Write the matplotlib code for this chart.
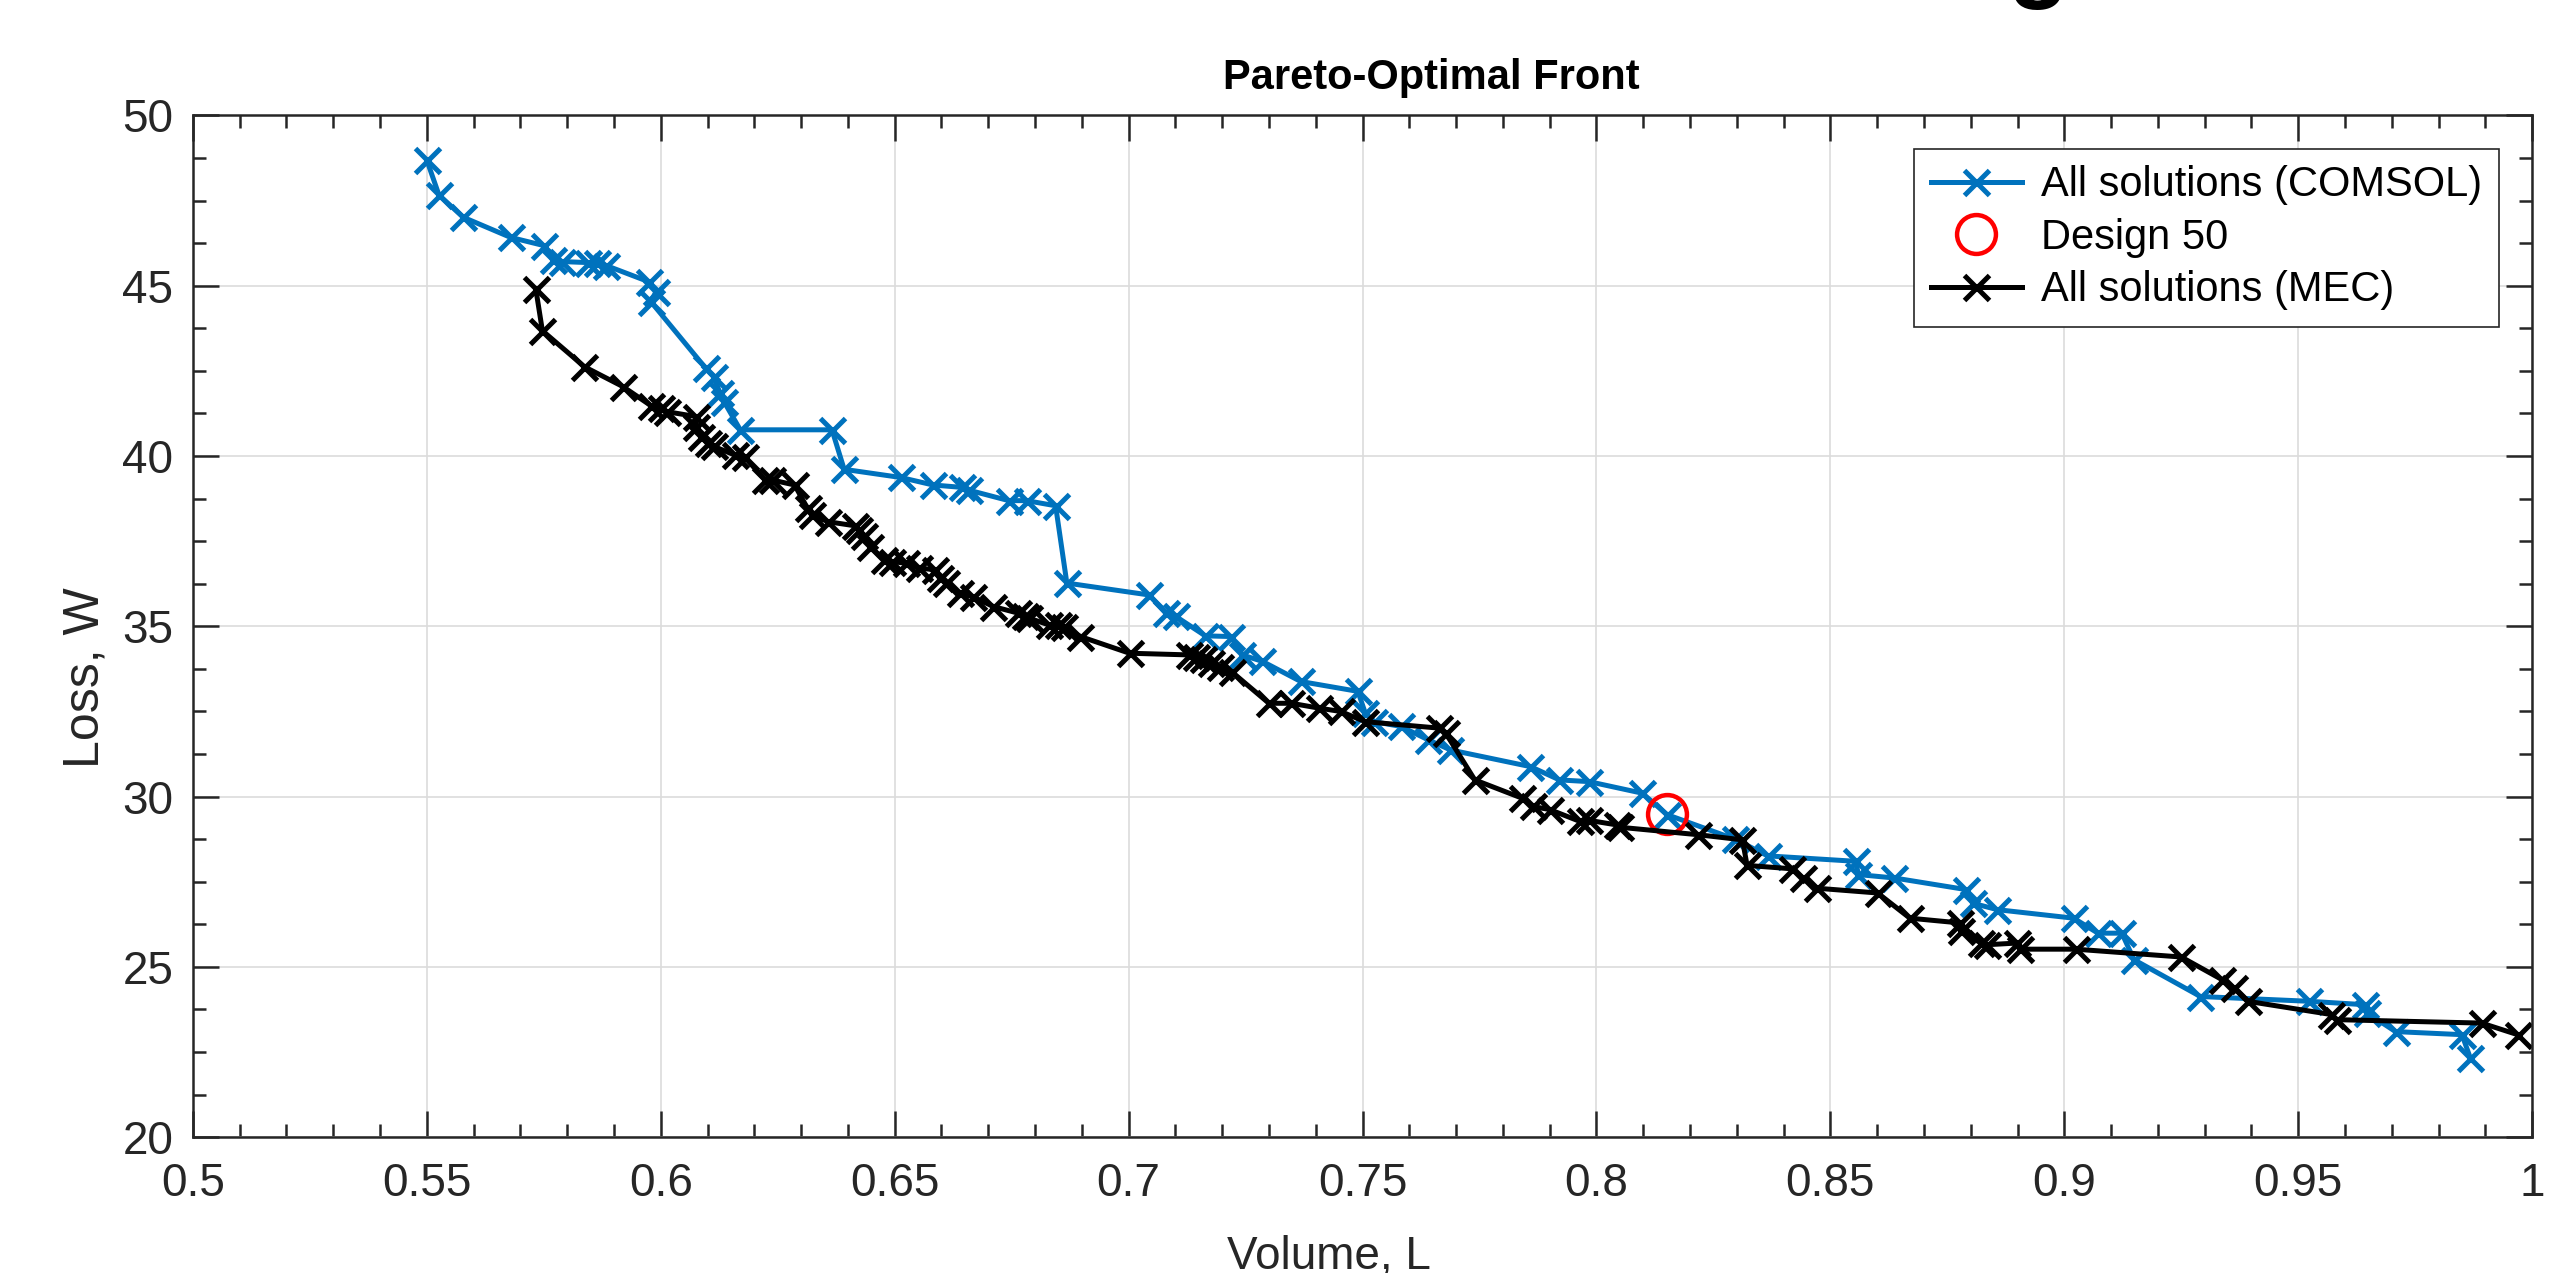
import matplotlib
matplotlib.use("Agg")
import matplotlib.pyplot as plt
from matplotlib.ticker import MultipleLocator

# Pareto front, COMSOL evaluation (volume in L, loss in W)
comsol_vol = [0.5500, 0.5526, 0.5578, 0.5679, 0.5750, 0.5769, 0.5788, 0.5845, 0.5864, 0.5884,
              0.5974, 0.5990, 0.5979, 0.6096, 0.6113, 0.6127, 0.6135, 0.6170, 0.6366, 0.6392,
              0.6513, 0.6582, 0.6643, 0.6658, 0.6744, 0.6782, 0.6844, 0.6868, 0.7044, 0.7080,
              0.7101, 0.7164, 0.7219, 0.7243, 0.7286, 0.7368, 0.7490, 0.7506, 0.7525, 0.7582,
              0.7640, 0.7688, 0.7859, 0.7921, 0.7984, 0.8098, 0.8151, 0.8296, 0.8366, 0.8554,
              0.8560, 0.8637, 0.8790, 0.8804, 0.8857, 0.9020, 0.9072, 0.9123, 0.9149, 0.9291,
              0.9523, 0.9642, 0.9648, 0.9708, 0.9850, 0.9868]
comsol_loss = [48.69, 47.66, 47.01, 46.42, 46.18, 45.76, 45.71, 45.68, 45.68, 45.59,
               45.12, 44.83, 44.53, 42.58, 42.33, 41.84, 41.60, 40.77, 40.77, 39.61,
               39.37, 39.15, 39.08, 39.00, 38.69, 38.69, 38.54, 36.27, 35.92, 35.38,
               35.29, 34.72, 34.70, 34.16, 33.97, 33.38, 33.09, 32.45, 32.20, 32.06,
               31.67, 31.37, 30.88, 30.49, 30.44, 30.10, 29.47, 28.75, 28.26, 28.10,
               27.71, 27.61, 27.27, 26.87, 26.68, 26.43, 25.99, 25.99, 25.21, 24.13,
               23.99, 23.89, 23.64, 23.10, 23.01, 22.32]

# Pareto front, MEC model
mec_vol = [0.5733, 0.5747, 0.5837, 0.5919, 0.5980, 0.6000, 0.6014, 0.6075, 0.6076, 0.6086,
           0.6100, 0.6114, 0.6158, 0.6180, 0.6223, 0.6237, 0.6286, 0.6314, 0.6323, 0.6358,
           0.6416, 0.6424, 0.6434, 0.6448, 0.6477, 0.6495, 0.6525, 0.6553, 0.6586, 0.6596,
           0.6610, 0.6639, 0.6667, 0.6711, 0.6763, 0.6778, 0.6787, 0.6830, 0.6849, 0.6863,
           0.6897, 0.7002, 0.7130, 0.7144, 0.7158, 0.7177, 0.7196, 0.7220, 0.7300, 0.7348,
           0.7406, 0.7453, 0.7506, 0.7664, 0.7678, 0.7740, 0.7840, 0.7864, 0.7900, 0.7965,
           0.7985, 0.8043, 0.8050, 0.8218, 0.8312, 0.8322, 0.8418, 0.8441, 0.8471, 0.8601,
           0.8670, 0.8777, 0.8780, 0.8822, 0.8834, 0.8899, 0.8905, 0.9024, 0.9250, 0.9338,
           0.9363, 0.9392, 0.9571, 0.9583, 0.9892, 0.9969]
mec_loss = [44.90, 43.68, 42.62, 42.04, 41.47, 41.40, 41.30, 41.16, 40.86, 40.57,
            40.38, 40.28, 40.03, 39.96, 39.30, 39.30, 39.15, 38.46, 38.27, 38.07,
            37.95, 37.83, 37.64, 37.34, 36.95, 36.90, 36.85, 36.71, 36.66, 36.41,
            36.27, 35.97, 35.87, 35.58, 35.39, 35.29, 35.24, 35.04, 35.04, 34.99,
            34.70, 34.21, 34.16, 34.11, 34.04, 33.92, 33.82, 33.67, 32.74, 32.74,
            32.60, 32.50, 32.20, 32.01, 31.86, 30.49, 29.96, 29.71, 29.62, 29.27,
            29.30, 29.17, 29.10, 28.88, 28.73, 27.98, 27.88, 27.61, 27.31, 27.17,
            26.43, 26.29, 26.04, 25.70, 25.65, 25.70, 25.52, 25.52, 25.29, 24.62,
            24.38, 23.99, 23.60, 23.45, 23.35, 23.01]

design_vol = [0.8150]
design_loss = [29.50]

AX_COLOR = '#262626'
BLUE = '#0072BD'

plt.rcParams['font.family'] = ['Liberation Sans', 'DejaVu Sans']

fig = plt.figure(figsize=(25.72, 12.73), dpi=100)
ax = fig.add_axes([0.0750, 0.1067, 0.9095, 0.8026])

ax.plot(comsol_vol, comsol_loss, color=BLUE, lw=3.6, marker='x', ms=18, mew=3.6,
        label='All solutions (COMSOL)')
ax.plot(design_vol, design_loss, ls='none', marker='o', ms=28, mfc='none', mec='red',
        mew=3.2, label='Design 50')
ax.plot(mec_vol, mec_loss, color='black', lw=3.6, marker='x', ms=18, mew=3.6,
        label='All solutions (MEC)')

ax.set_xlim(0.5, 1.0)
ax.set_ylim(20, 50)
ax.xaxis.set_major_locator(MultipleLocator(0.05))
ax.xaxis.set_minor_locator(MultipleLocator(0.01))
ax.yaxis.set_major_locator(MultipleLocator(5))
ax.yaxis.set_minor_locator(MultipleLocator(1.25))
ax.xaxis.set_major_formatter(plt.FuncFormatter(lambda v, p: f"{v:g}"))

ax.grid(True, which='major', color='#dcdcdc', lw=1.2)
ax.set_axisbelow(True)
for s in ax.spines.values():
    s.set_color(AX_COLOR)
    s.set_linewidth(1.8)
ax.tick_params(which='both', direction='in', top=True, right=True, colors=AX_COLOR,
               labelsize=33, width=1.8)
ax.tick_params(which='major', length=18.5)
ax.tick_params(which='minor', length=9.5)
ax.tick_params(axis='x', pad=18)
ax.tick_params(axis='y', pad=14)

ax.set_title('Pareto-Optimal Front', fontsize=30, fontweight='bold', pad=19,
             color='black', x=0.5295)
ax.set_xlabel('Volume, L', fontsize=33, color=AX_COLOR, va='baseline')
ax.set_ylabel('Loss, W', fontsize=36, color=AX_COLOR)
ax.xaxis.set_label_coords(0.4857, -0.129)
ax.yaxis.set_label_coords(-0.036, 0.45)

leg = ax.legend(loc='upper right', fontsize=30, frameon=True, fancybox=False,
                framealpha=1, edgecolor=AX_COLOR, borderaxespad=0.8,
                handlelength=2.2, handletextpad=0.45, labelspacing=0.3,
                borderpad=0.4)
leg.get_frame().set_linewidth(1.2)

# descender of the slide heading that is cut off at the top edge
fig.text(0.7924, 1.0086, 'g', fontsize=72, fontweight='bold', ha='center', va='baseline')

fig.savefig('out.png', dpi=100)
